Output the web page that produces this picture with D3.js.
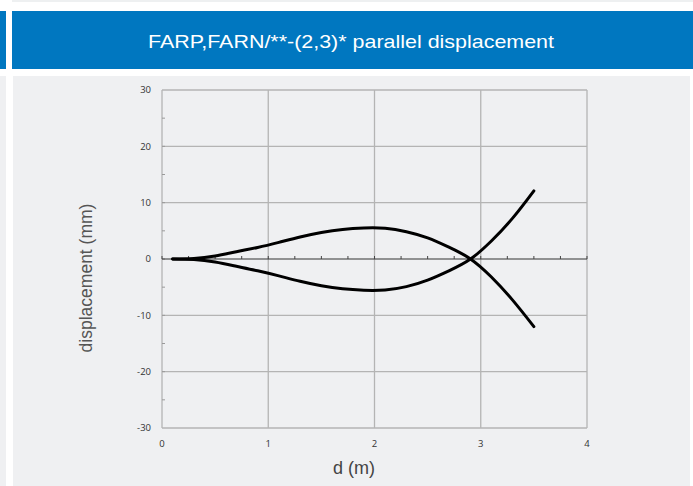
<!DOCTYPE html>
<html><head><meta charset="utf-8">
<script src="https://cdn.jsdelivr.net/npm/d3@7"></script>
<style>body{margin:0;background:#fff;}svg{display:block;}</style>
</head><body>
<script>
const title = "FARP,FARN/**-(2,3)* parallel displacement";
const dValues = [0.1, 0.3, 0.5, 0.7, 0.9, 1.1, 1.3, 1.5, 1.7, 1.9, 2.1, 2.3, 2.5, 2.7, 2.9, 3.1, 3.3, 3.5];
const farpValues = [0, 0.1, 0.55, 1.3, 2.05, 2.95, 3.9, 4.7, 5.25, 5.5, 5.45, 4.85, 3.75, 2.1, 0.05, -3.2, -7.3, -12.0];
const farnValues = [0, -0.1, -0.55, -1.3, -2.1, -3.0, -3.95, -4.75, -5.3, -5.55, -5.5, -4.9, -3.75, -2.1, -0.05, 3.2, 7.25, 12.1];
const xTicks = [0, 1, 2, 3, 4];
const yTicks = [-30, -20, -10, 0, 10, 20, 30];
const xLabel = "d (m)";
const yLabel = "displacement (mm)";

const W = 693, H = 486;
const svg = d3.select("body").append("svg").attr("width", W).attr("height", H);

// page decoration
svg.append("rect").attr("x", 12).attr("y", 0).attr("width", W - 12).attr("height", 2).attr("fill", "#eef0f1");
svg.append("rect").attr("x", 0).attr("y", 11).attr("width", 6).attr("height", 58).attr("fill", "#0077c0");
svg.append("rect").attr("x", 12).attr("y", 11).attr("width", W - 12).attr("height", 58).attr("fill", "#0077c0");
svg.append("text").attr("x", 351).attr("y", 48).attr("text-anchor", "middle")
  .attr("fill", "#fff").attr("font-family", "Liberation Sans, Arial, sans-serif")
  .attr("font-size", 19).attr("textLength", 406).attr("lengthAdjust", "spacingAndGlyphs").text(title);
svg.append("rect").attr("x", 0).attr("y", 76).attr("width", 6).attr("height", H - 76).attr("fill", "#eff0f2");
svg.append("rect").attr("x", 13).attr("y", 76).attr("width", 677).attr("height", H - 76).attr("fill", "#eff0f2");

const x = d3.scaleLinear().domain([0, 4]).range([162, 587]);
const y = d3.scaleLinear().domain([-30, 30]).range([428, 90]);

const grid = svg.append("g");
grid.selectAll("line.v").data(xTicks).join("line")
  .attr("x1", d => x(d)).attr("x2", d => x(d)).attr("y1", y(30)).attr("y2", y(-30))
  .attr("stroke", "#b4b4b4").attr("stroke-width", 1.3);
grid.selectAll("line.h").data(yTicks.filter(d => d !== 0)).join("line")
  .attr("x1", x(0)).attr("x2", x(4)).attr("y1", d => y(d)).attr("y2", d => y(d))
  .attr("stroke", "#b4b4b4").attr("stroke-width", 1.3);

// left axis minor ticks
const yMinor = d3.range(-25, 30, 5);
grid.selectAll("line.ym").data(yMinor).join("line")
  .attr("x1", x(0)).attr("x2", x(0) + 3).attr("y1", d => y(d)).attr("y2", d => y(d))
  .attr("stroke", "#9a9a9a").attr("stroke-width", 1);

// zero axis with minor ticks
svg.append("line").attr("x1", x(0)).attr("x2", x(4)).attr("y1", y(0)).attr("y2", y(0))
  .attr("stroke", "#333").attr("stroke-width", 1.2);
const xMinor = d3.range(0, 4.01, 0.25);
svg.selectAll("line.xm").data(xMinor).join("line")
  .attr("x1", d => x(d)).attr("x2", d => x(d)).attr("y1", y(0)).attr("y2", y(0) - 3)
  .attr("stroke", "#444").attr("stroke-width", 1);

// tick labels
svg.selectAll("text.yt").data(yTicks).join("text")
  .attr("x", 151).attr("y", d => y(d)).attr("dy", "0.35em").attr("text-anchor", "end")
  .attr("font-family", "Open Sans, sans-serif").attr("font-size", 9.5).attr("fill", "#333")
  .text(d => d);
svg.selectAll("text.xt").data(xTicks).join("text")
  .attr("x", d => x(d)).attr("y", 444).attr("dy", "0.35em").attr("text-anchor", "middle")
  .attr("font-family", "Open Sans, sans-serif").attr("font-size", 9.5).attr("fill", "#333")
  .text(d => d);

// axis titles
svg.append("text").attr("x", 354).attr("y", 474).attr("text-anchor", "middle")
  .attr("font-family", "Liberation Sans, Arial, sans-serif").attr("font-size", 18)
  .attr("fill", "#444").text(xLabel);
svg.append("text").attr("transform", "translate(92,278) rotate(-90)").attr("text-anchor", "middle")
  .attr("font-family", "Liberation Sans, Arial, sans-serif").attr("font-size", 17.5)
  .attr("fill", "#555").text(yLabel);

// curves
const line = d3.line().x(d => x(d[0])).y(d => y(d[1])).curve(d3.curveNatural);
[farpValues, farnValues].forEach(vals => {
  svg.append("path").datum(dValues.map((d, i) => [d, vals[i]]))
    .attr("d", line).attr("fill", "none").attr("stroke", "#000")
    .attr("stroke-width", 3).attr("stroke-linecap", "round");
});
</script>
</body></html>
